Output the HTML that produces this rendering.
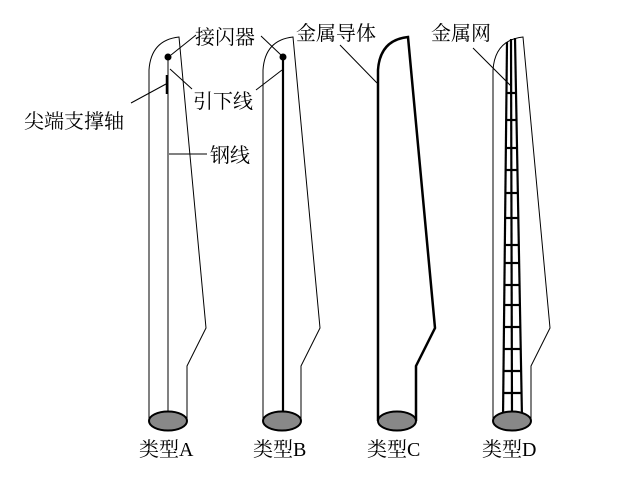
<!DOCTYPE html>
<html><head><meta charset="utf-8"><style>
html,body{margin:0;padding:0;background:#fff;}
svg{display:block;}
text{font-family:"Liberation Serif","Noto Serif CJK SC","Noto Sans CJK SC",serif;font-size:20px;fill:#000;}
</style></head><body>
<svg width="628" height="477" viewBox="0 0 628 477" xmlns="http://www.w3.org/2000/svg">
<defs>
<path id="blade" d="M149,421 L149,70 Q151,40 179,37 L206,328 L187,366 L187,421"/>
</defs>
<g fill="none" stroke="#000">
  <use href="#blade" stroke-width="1"/>
  <line x1="168" y1="57" x2="168" y2="418" stroke-width="1"/>
  <line x1="167" y1="75" x2="167" y2="94" stroke-width="2.5"/>
  <g transform="translate(114,0)"><use href="#blade" stroke-width="1"/></g>
  <line x1="283" y1="57" x2="283" y2="418" stroke-width="2.2"/>
  <g transform="translate(229,0)"><use href="#blade" stroke-width="2.5"/></g>
  <g transform="translate(344,0)"><use href="#blade" stroke-width="1"/></g>
  <g stroke-width="2.2">
    <line x1="507" y1="42" x2="503" y2="418"/>
    <line x1="511" y1="39" x2="512" y2="418"/>
    <line x1="515" y1="38" x2="522" y2="418"/>
    <g>
      <line x1="506" y1="93" x2="516" y2="93"/>
      <line x1="506" y1="120" x2="517" y2="120"/>
      <line x1="506" y1="148" x2="517" y2="148"/>
      <line x1="505" y1="170" x2="518" y2="170"/>
      <line x1="505" y1="193" x2="518" y2="193"/>
      <line x1="505" y1="218" x2="518" y2="218"/>
      <line x1="505" y1="245" x2="519" y2="245"/>
      <line x1="505" y1="263" x2="519" y2="263"/>
      <line x1="504" y1="285" x2="519" y2="285"/>
      <line x1="504" y1="305" x2="520" y2="305"/>
      <line x1="504" y1="327" x2="520" y2="327"/>
      <line x1="504" y1="349" x2="520" y2="349"/>
      <line x1="504" y1="371" x2="521" y2="371"/>
      <line x1="504" y1="393" x2="521" y2="393"/>
    </g>
  </g>
  <g stroke-width="1">
    <line x1="171" y1="55" x2="196" y2="35"/>
    <line x1="170" y1="69" x2="192" y2="89"/>
    <line x1="131" y1="103" x2="166" y2="84"/>
    <line x1="169" y1="154" x2="207" y2="154"/>
    <line x1="261" y1="36" x2="281" y2="55"/>
    <line x1="256" y1="90" x2="282" y2="70"/>
    <line x1="340" y1="45" x2="377" y2="83"/>
    <line x1="473" y1="48" x2="511" y2="86"/>
  </g>
</g>
<circle cx="168" cy="57" r="3.5" fill="#000"/>
<circle cx="283" cy="57" r="3.5" fill="#000"/>
<g fill="#888" stroke="#000" stroke-width="2">
  <ellipse cx="168" cy="421" rx="19" ry="9.5"/>
  <ellipse cx="282" cy="421" rx="19" ry="9.5"/>
  <ellipse cx="397" cy="421" rx="19" ry="9.5"/>
  <ellipse cx="512" cy="421" rx="19" ry="9.5"/>
</g>
<text x="195" y="44">接闪器</text>
<text x="193" y="108">引下线</text>
<text x="24" y="128">尖端支撑轴</text>
<text x="210" y="162">钢线</text>
<text x="296" y="40">金属导体</text>
<text x="431" y="40">金属网</text>
<text x="139" y="456">类型A</text>
<text x="253" y="456">类型B</text>
<text x="367" y="456">类型C</text>
<text x="482" y="456">类型D</text>
</svg>
</body></html>
